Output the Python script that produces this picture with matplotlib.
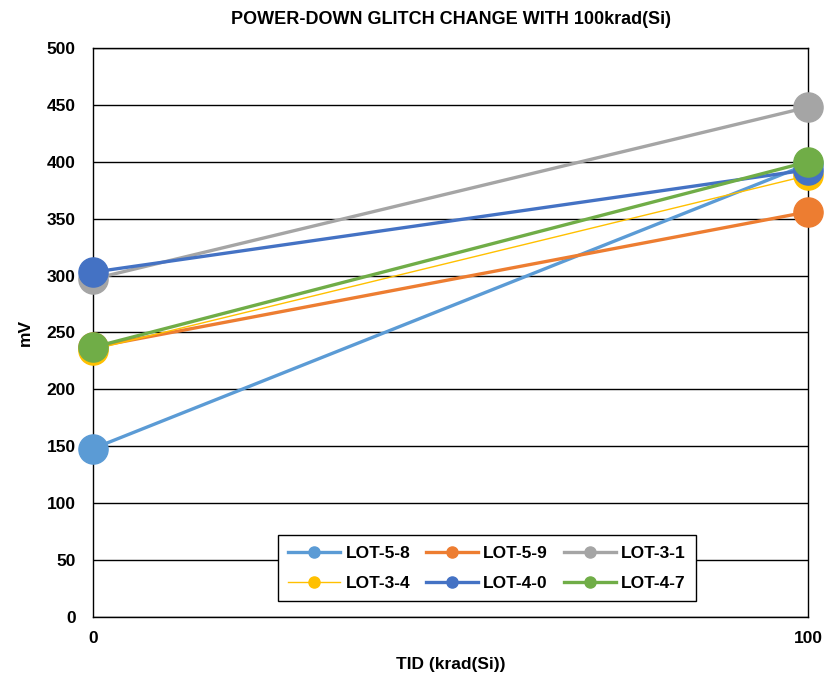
import matplotlib
matplotlib.use("Agg")
import matplotlib.pyplot as plt
from matplotlib.lines import Line2D

plt.rcParams['font.family'] = ['Liberation Sans', 'DejaVu Sans']
plt.rcParams['font.weight'] = 'bold'

x = [0, 100]
series = ["LOT-5-8", "LOT-5-9", "LOT-3-1", "LOT-3-4", "LOT-4-0", "LOT-4-7"]
values = {
    "LOT-5-8": [148, 398],
    "LOT-5-9": [237, 356],
    "LOT-3-1": [297, 448],
    "LOT-3-4": [235, 388],
    "LOT-4-0": [303, 393],
    "LOT-4-7": [237, 400],
}
colors = ["#5B9BD5", "#ED7D31", "#A5A5A5", "#FFC000", "#4472C4", "#70AD47"]
widths = [2.4, 2.4, 2.4, 1.0, 2.4, 2.4]
yticks = [0, 50, 100, 150, 200, 250, 300, 350, 400, 450, 500]

fig = plt.figure(figsize=(8.24, 6.76), dpi=100)
ax = fig.add_axes([0.1129, 0.0873, 0.8677, 0.8417])

for name, c, w in zip(series, colors, widths):
    ax.plot(x, values[name], color=c, lw=w, marker='o', markersize=21,
            clip_on=False, zorder=3)

ax.set_xlim(0, 100)
ax.set_ylim(0, 500)
ax.set_yticks(yticks)
ax.set_xticks(x)
ax.yaxis.grid(True, color='black', lw=1)
ax.set_axisbelow(True)
for s in ax.spines.values():
    s.set_color('black')
    s.set_linewidth(1)
ax.tick_params(length=0, labelsize=12.5)
ax.tick_params(axis='y', pad=12.5)
ax.tick_params(axis='x', pad=10)
for lab in ax.get_xticklabels() + ax.get_yticklabels():
    lab.set_fontweight('bold')

ax.set_title("POWER-DOWN GLITCH CHANGE WITH 100krad(Si)", fontsize=13,
             fontweight='bold', pad=17)
ax.set_xlabel("TID (krad(Si))", fontsize=12.5, fontweight='bold', labelpad=8)
ax.set_ylabel("mV", fontsize=12.5, fontweight='bold', labelpad=10)

handles = [Line2D([0], [0], color=c, lw=w, marker='o', markersize=8)
           for c, w in zip(colors, widths)]
# reorder so that legend fills row-wise (3 columns, 2 rows)
order = [0, 3, 1, 4, 2, 5]
leg = ax.legend([handles[i] for i in order], [series[i] for i in order],
                loc='center', bbox_to_anchor=(0.551, 0.086),
                ncol=3, frameon=True, fancybox=False, edgecolor='black',
                framealpha=1, prop={'weight': 'bold', 'size': 12.5},
                handlelength=3.0, columnspacing=0.9, handletextpad=0.3,
                borderpad=0.6, labelspacing=0.85)
leg.get_frame().set_linewidth(1)
leg.set_zorder(5)

fig.savefig("out.png", dpi=100)
